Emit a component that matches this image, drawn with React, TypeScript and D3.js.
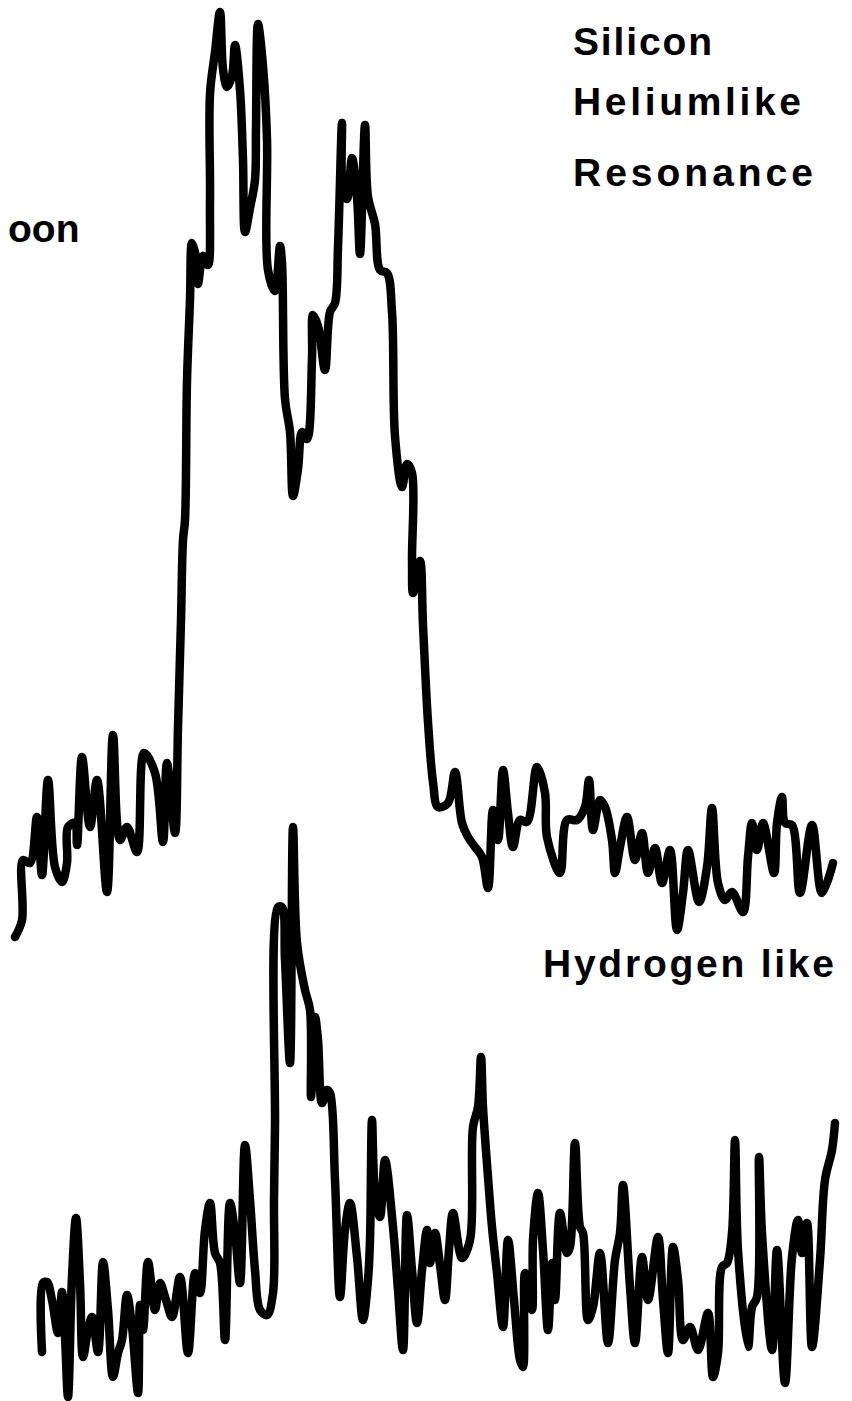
import React from "react";
import * as d3 from "d3";

// Silicon heliumlike resonance spectrum (upper trace): channel vs counts
const topChannel = [15,22,23,30,37,42,48,55,62,67,68,75,77,82,90,97,107,113,120,127,137,144,155,163,167,175,178,181,183,185,187,190,192,197,198,203,208,210,210,215,220,223,227,232,235,240,243,245,250,255,256,258,263,267,268,275,280,282,285,290,293,298,302,307,312,313,318,325,330,335,338,342,343,347,352,357,360,365,368,375,380,387,392,395,402,407,412,412,413,420,423,428,433,438,448,455,462,468,475,482,488,493,498,503,508,513,520,527,537,545,547,560,567,577,585,589,593,600,605,612,615,620,627,635,642,648,655,662,670,677,683,688,699,707,712,718,725,732,743,748,752,757,763,774,777,782,785,792,800,812,822,833];
const topCounts = [13,30,90,87,133,75,170,83,68,87,123,127,105,193,123,170,58,215,110,123,98,197,177,108,187,117,223,330,410,430,569,650,707,687,666,694,685,750,856,898,938,881,863,874,905,860,790,718,742,770,822,926,884,811,680,659,704,687,551,518,454,481,518,511,592,635,624,580,638,647,703,827,758,751,792,753,696,825,753,726,680,677,638,514,463,486,477,389,357,389,325,228,168,143,147,178,127,113,103,93,62,140,110,180,137,103,130,128,183,157,113,77,130,130,143,170,120,150,143,110,77,103,133,90,117,77,102,67,100,20,57,100,48,83,142,67,50,58,38,93,127,100,127,77,127,153,127,125,57,125,57,87];

// Hydrogenlike (lower trace): channel vs counts
const botChannel = [42,43,47,52,58,62,65,68,72,76,80,83,88,92,98,103,108,113,118,122,127,132,138,140,143,148,155,160,166,172,180,188,195,200,205,210,215,220,225,230,235,240,245,250,255,260,267,273,274,275,278,282,285,290,293,297,305,310,311,315,318,322,327,330,335,340,345,350,357,363,368,370,372,375,380,385,393,398,403,407,412,417,422,427,430,435,440,445,449,453,462,470,473,478,481,483,488,492,497,503,508,514,520,523,525,532,533,538,543,548,552,555,560,567,570,575,580,583,588,593,600,608,615,620,623,630,635,642,648,658,663,668,673,678,683,690,698,708,713,718,722,727,732,735,738,748,752,757,759,762,772,777,785,792,798,802,807,812,820,825,832,835];
const botCounts = [48,117,118,100,67,108,63,3,123,182,117,43,70,83,48,138,90,23,47,60,105,73,7,95,70,138,90,117,100,83,123,47,127,107,170,197,147,137,60,197,167,117,255,200,130,90,85,107,200,273,493,493,440,337,573,457,410,390,303,383,360,297,310,307,220,103,170,197,143,80,120,160,280,207,183,240,173,110,50,185,130,77,130,170,137,167,135,100,150,187,142,160,273,293,343,293,223,173,127,73,160,100,40,33,127,90,160,207,150,70,137,100,187,147,153,257,173,167,80,93,147,57,140,167,215,113,57,143,100,163,100,47,153,120,60,73,50,87,23,47,133,137,167,260,150,53,93,103,243,167,50,150,17,143,180,147,177,53,140,220,250,277];

const labelLines = ["Silicon", "Heliumlike", "Resonance"];
const leftFragment = "oon";
const lowerLabel = "Hydrogen like";

export default function App() {
  const W = 852;
  const H = 1401;
  const x = d3.scaleLinear().domain([0, 852]).range([0, 852]);
  const yTop = d3.scaleLinear().domain([0, 950]).range([950, 0]);
  const yBot = d3.scaleLinear().domain([0, 600]).range([1400, 800]);

  const mk = (xs: number[], ys: number[], ys2: d3.ScaleLinear<number, number>) =>
    d3
      .line<number>()
      .x((_, i) => x(xs[i]))
      .y((d) => ys2(d))
      .curve(d3.curveCatmullRom.alpha(0.5))(ys) || "";

  const topPath = mk(topChannel, topCounts, yTop);
  const botPath = mk(botChannel, botCounts, yBot);

  const font = "'Liberation Sans', Arial, Helvetica, sans-serif";
  const labelX = 573;
  const labelY = [55, 115, 186];
  const labelW = [139, 228, 240];

  return (
    <svg
      width={W}
      height={H}
      viewBox={`0 0 ${W} ${H}`}
      style={{ position: "absolute", left: 0, top: 0, background: "#fff" }}
    >
      <rect x={0} y={0} width={W} height={H} fill="#fff" />
      <path d={topPath} fill="none" stroke="#000" strokeWidth={8.5} strokeLinejoin="round" strokeLinecap="round" />
      <path d={botPath} fill="none" stroke="#000" strokeWidth={8.5} strokeLinejoin="round" strokeLinecap="round" />
      {labelLines.map((t, i) => (
        <text
          key={t}
          x={labelX}
          y={labelY[i]}
          fontFamily={font}
          fontWeight="bold"
          fontSize={39}
          fill="#000"
          textLength={labelW[i]}
          lengthAdjust="spacing"
        >
          {t}
        </text>
      ))}
      <text x={8} y={242} fontFamily={font} fontWeight="bold" fontSize={39} fill="#000">
        {leftFragment}
      </text>
      <text x={543} y={977} fontFamily={font} fontWeight="bold" fontSize={39} fill="#000" textLength={291} lengthAdjust="spacing">
        {lowerLabel}
      </text>
    </svg>
  );
}
